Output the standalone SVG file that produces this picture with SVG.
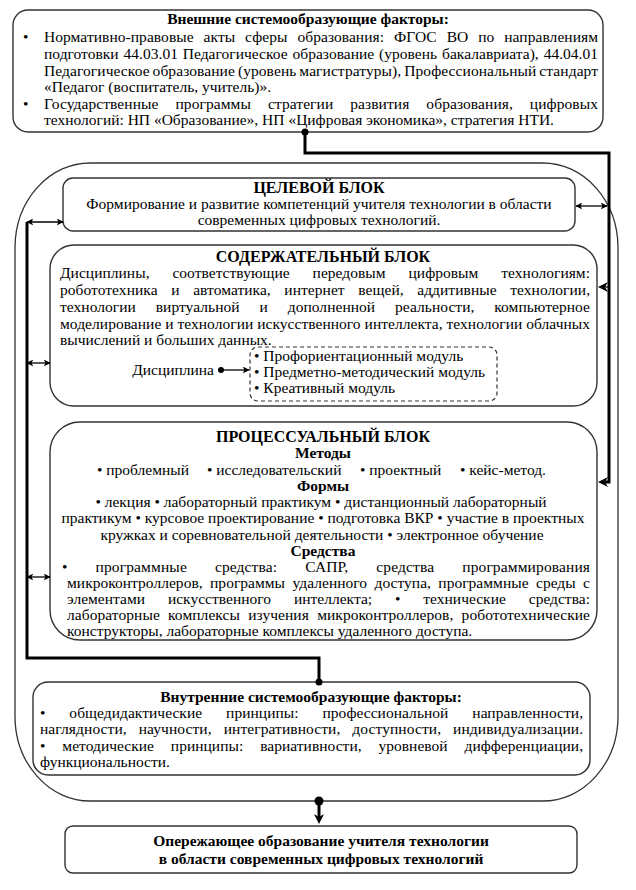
<svg xmlns="http://www.w3.org/2000/svg" width="636" height="890" viewBox="0 0 636 890">
<style>
.t{font-family:"Liberation Serif","Times New Roman","DejaVu Serif",serif;font-size:15.5px;fill:#000}
.b{font-weight:bold}
.m{text-anchor:middle}
.box{fill:#fff;stroke:#333;stroke-width:1.4}
.dash{fill:none;stroke:#333;stroke-width:1.2;stroke-dasharray:4 3}
.thick{fill:none;stroke:#000;stroke-width:3}
.thin{fill:none;stroke:#000;stroke-width:1.3}
</style>
<defs>
<marker id="ah" viewBox="0 0 10 10" refX="9" refY="5" markerWidth="7" markerHeight="7" markerUnits="userSpaceOnUse" orient="auto-start-reverse"><path d="M0,0 L10,5 L0,10 L2.5,5 z" fill="#000"/></marker>
<marker id="ahb" viewBox="0 0 10 10" refX="3" refY="5" markerWidth="10" markerHeight="10" markerUnits="userSpaceOnUse" orient="auto"><path d="M0,0 L10,5 L0,10 L3,5 z" fill="#000"/></marker>
</defs>
<rect width="636" height="890" fill="#fff"/>

<g id="system">
<rect x="15" y="163" width="603" height="638" rx="75" ry="85" fill="#fff" stroke="#333" stroke-width="1.3"/>
</g>

<g id="external">
<rect class="box" x="13" y="10" width="590" height="122" rx="15"/>
<text class="t b m" x="308" y="24">Внешние системообразующие факторы:</text>
<text class="t" x="23" y="42">•</text>
<text class="t" x="44" y="42" textLength="554" lengthAdjust="spacing" style="word-spacing:6px">Нормативно-правовые акты сферы образования: ФГОС ВО по направлениям</text>
<text class="t" x="44" y="59" textLength="554" lengthAdjust="spacing" style="word-spacing:1px">подготовки 44.03.01 Педагогическое образование (уровень бакалавриата), 44.04.01</text>
<text class="t" x="44" y="76" textLength="554" lengthAdjust="spacing" style="word-spacing:-1px">Педагогическое образование (уровень магистратуры), Профессиональный стандарт</text>
<text class="t" x="44" y="92">«Педагог (воспитатель, учитель)».</text>
<text class="t" x="23" y="109">•</text>
<text class="t" x="44" y="109" textLength="554" lengthAdjust="spacing" style="word-spacing:13px">Государственные программы стратегии развития образования, цифровых</text>
<text class="t" x="44" y="125">технологий: НП «Образование», НП «Цифровая экономика», стратегия НТИ.</text>
</g>

<g id="target">
<rect class="box" x="63" y="178" width="512" height="53" rx="10"/>
<text class="t b m" x="319" y="193" style="font-size:16px">ЦЕЛЕВОЙ БЛОК</text>
<text class="t m" x="319" y="209">Формирование и развитие компетенций учителя технологии в области</text>
<text class="t m" x="319" y="225">современных цифровых технологий.</text>
</g>

<g id="content">
<rect class="box" x="50" y="245" width="547" height="161" rx="24"/>
<text class="t b m" x="323" y="262" style="font-size:16px">СОДЕРЖАТЕЛЬНЫЙ БЛОК</text>
<text class="t" x="60" y="278" textLength="530" lengthAdjust="spacing" style="word-spacing:19px">Дисциплины, соответствующие передовым цифровым технологиям:</text>
<text class="t" x="60" y="295" textLength="530" lengthAdjust="spacing" style="word-spacing:9.7px">робототехника и автоматика, интернет вещей, аддитивные технологии,</text>
<text class="t" x="60" y="312" textLength="530" lengthAdjust="spacing" style="word-spacing:16px">технологии виртуальной и дополненной реальности, компьютерное</text>
<text class="t" x="60" y="329" textLength="530" lengthAdjust="spacing">моделирование и технологии искусственного интеллекта, технологии облачных</text>
<text class="t" x="60" y="345">вычислений и больших данных.</text>
<text class="t" x="214" y="375" text-anchor="end">Дисциплина</text>
</g>

<g id="modules">
<rect class="dash" x="250" y="347" width="247" height="54" rx="8"/>
<text class="t" x="254" y="361">• Профориентационный модуль</text>
<text class="t" x="254" y="377">• Предметно-методический модуль</text>
<text class="t" x="254" y="393">• Креативный модуль</text>
</g>

<g id="process">
<rect class="box" x="50" y="422" width="547" height="218" rx="30"/>
<text class="t b m" x="323" y="442" style="font-size:16px">ПРОЦЕССУАЛЬНЫЙ БЛОК</text>
<text class="t b m" x="323" y="458">Методы</text>
<text class="t" y="474.5"><tspan x="97">• проблемный</tspan><tspan x="207">• исследовательский</tspan><tspan x="360">• проектный</tspan><tspan x="460">• кейс-метод.</tspan></text>
<text class="t b m" x="323" y="491">Формы</text>
<text class="t m" x="321" y="507">• лекция • лабораторный практикум • дистанционный лабораторный</text>
<text class="t m" x="323" y="523">практикум • курсовое проектирование • подготовка ВКР • участие в проектных</text>
<text class="t m" x="322" y="539.5">кружках и соревновательной деятельности • электронное обучение</text>
<text class="t b m" x="323" y="555.5">Средства</text>
<text class="t" x="62" y="571.5" textLength="528" lengthAdjust="spacing" style="word-spacing:24px">• программные средства: САПР, средства программирования</text>
<text class="t" x="67" y="587.5" textLength="523" lengthAdjust="spacing" style="word-spacing:3.5px">микроконтроллеров, программы удаленного доступа, программные среды с</text>
<text class="t" x="67" y="604" textLength="523" lengthAdjust="spacing" style="word-spacing:19px">элементами искусственного интеллекта; • технические средства:</text>
<text class="t" x="67" y="620" textLength="523" lengthAdjust="spacing" style="word-spacing:4.3px">лабораторные комплексы изучения микроконтроллеров, робототехнические</text>
<text class="t" x="67" y="636">конструкторы, лабораторные комплексы удаленного доступа.</text>
</g>

<g id="internal">
<rect class="box" x="33" y="682" width="557" height="93" rx="15"/>
<text class="t b m" x="311" y="702">Внутренние системообразующие факторы:</text>
<text class="t" x="40" y="718" textLength="543" lengthAdjust="spacing" style="word-spacing:20px">• общедидактические принципы: профессиональной направленности,</text>
<text class="t" x="40" y="734" textLength="543" lengthAdjust="spacing" style="word-spacing:8px">наглядности, научности, интегративности, доступности, индивидуализации.</text>
<text class="t" x="40" y="751" textLength="543" lengthAdjust="spacing" style="word-spacing:13px">• методические принципы: вариативности, уровневой дифференциации,</text>
<text class="t" x="40" y="767">функциональности.</text>
</g>

<g id="result">
<rect class="box" x="65" y="826" width="512" height="47" rx="8"/>
<text class="t b m" x="321" y="846">Опережающее образование учителя технологии</text>
<text class="t b m" x="321" y="864">в области современных цифровых технологий</text>
</g>

<g id="connectors">
<path class="thick" d="M305,132 V153 H609 V482 H605" marker-end="url(#ahb)"/>
<circle cx="305" cy="132" r="3.5"/>
<path class="thin" d="M609,287 H605" marker-end="url(#ahb)"/>
<path class="thin" d="M576,206 H607" marker-start="url(#ah)" marker-end="url(#ah)"/>
<path class="thick" d="M27,222 V658 H319 V682"/>
<circle cx="319" cy="682" r="3.5"/>
<path class="thin" d="M27,222 H63" marker-start="url(#ah)" marker-end="url(#ah)"/>
<path class="thin" d="M27,363 H50" marker-start="url(#ah)" marker-end="url(#ah)"/>
<path class="thin" d="M27,577 H50" marker-start="url(#ah)" marker-end="url(#ah)"/>
<circle cx="221" cy="370" r="3"/>
<path class="thin" d="M221,370 H249" marker-end="url(#ah)"/>
<circle cx="319" cy="801" r="4.5"/>
<path class="thick" d="M319,801 V817" marker-end="url(#ahb)"/>
</g>
</svg>
